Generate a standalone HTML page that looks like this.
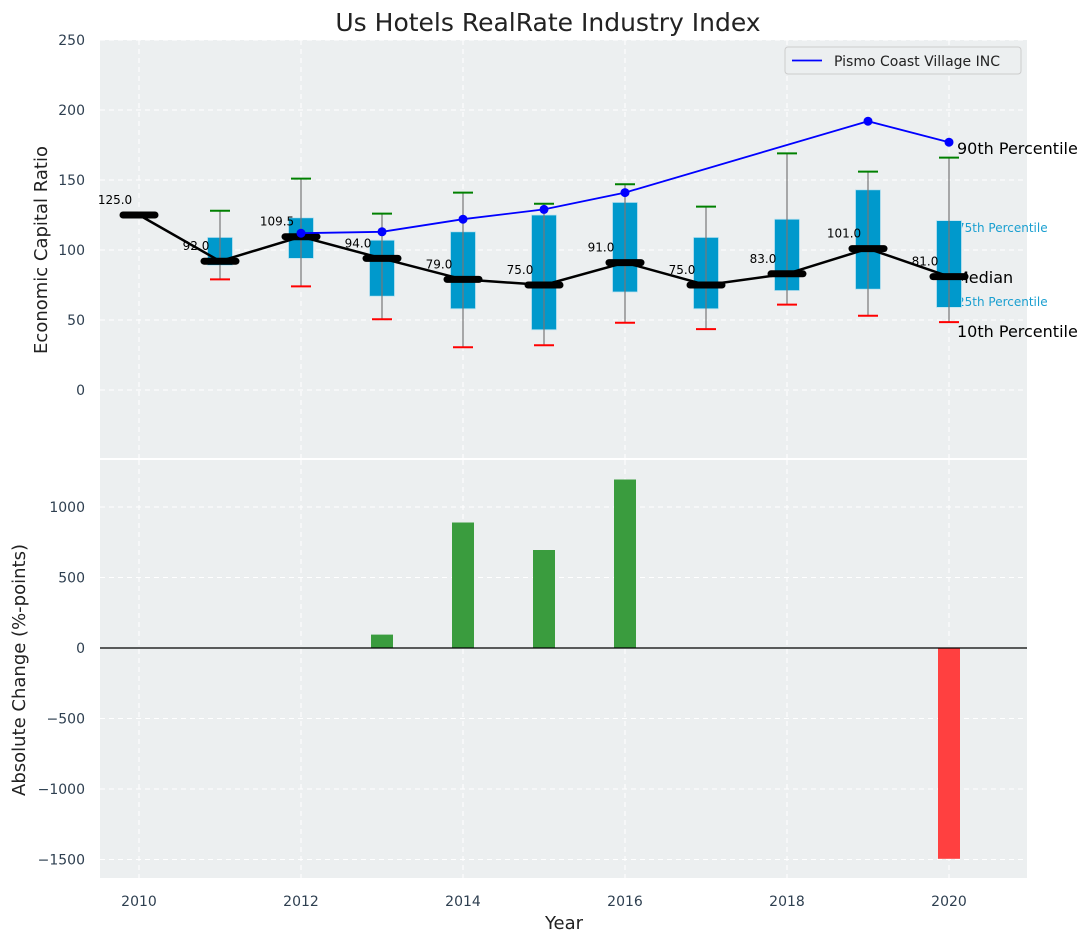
<!DOCTYPE html>
<html><head><meta charset="utf-8"><style>
body{margin:0;background:#fff;font-family:"Liberation Sans","DejaVu Sans",sans-serif;}
svg text{font-family:"DejaVu Sans","Liberation Sans",sans-serif;}
</style></head><body>
<svg id="c" width="1092" height="942" viewBox="0 0 1092 942" xmlns="http://www.w3.org/2000/svg"></svg>
<script>
const years=[2010,2011,2012,2013,2014,2015,2016,2017,2018,2019,2020];
const medians=[125,92,109.5,94,79,75,91,75,83,101,81];
const q25=[null,89,94,67,58,43,70,58,71,72,59];
const q75=[null,109,123,107,113,125,134,109,122,143,121];
const p10=[null,79,74,50.5,30.5,32,48,43.5,61,53,48.5];
const p90=[null,128,151,126,141,133,147,131,169,156,166];
const compYears=[2012,2013,2014,2015,2016,2019,2020];
const compVals=[112,113,122,129,141,192,177];
const barYears=[2013,2014,2015,2016,2020];
const barVals=[95,890,695,1195,-1495];
const topTicks=[0,50,100,150,200,250];
const botTicks=[-1500,-1000,-500,0,500,1000];
const xTicks=[2010,2012,2014,2016,2018,2020];

const NS="http://www.w3.org/2000/svg";
const svg=document.getElementById('c');
function el(t,a,txt){const e=document.createElementNS(NS,t);for(const k in a)e.setAttribute(k,a[k]);if(txt!==undefined)e.textContent=txt;svg.appendChild(e);return e;}
const X=y=>139+(y-2010)*81;
const YT=v=>390-v*1.4;
const YB=v=>648-v*0.141;
const L=100,R=1027;
const TT=40,TB=458,BT=460,BB=878;

let e;
e=el('rect',{x:L,y:TT,width:R-L,height:TB-TT,fill:'#eceff0'});

e=el('rect',{x:L,y:BT,width:R-L,height:BB-BT,fill:'#eceff0'});


xTicks.forEach(y=>{
 [[TT,TB],[BT,BB]].forEach(([a,b])=>{
  e=el('line',{x1:X(y),x2:X(y),y1:a,y2:b,stroke:'#fff','stroke-dasharray':'5,4','stroke-width':1});
  
 });
 e=el('text',{x:X(y),y:906,'text-anchor':'middle','font-size':14,fill:'#2e3f50'},String(y));
 
});
topTicks.forEach(v=>{
 e=el('line',{x1:L,x2:R,y1:YT(v),y2:YT(v),stroke:'#fff','stroke-dasharray':'5,4','stroke-width':1});
 
 e=el('text',{x:85,y:YT(v)+5,'text-anchor':'end','font-size':14,fill:'#2e3f50'},String(v));
 
});
botTicks.forEach(v=>{
 e=el('line',{x1:L,x2:R,y1:YB(v),y2:YB(v),stroke:'#fff','stroke-dasharray':'5,4','stroke-width':1});
 
 e=el('text',{x:85,y:YB(v)+5,'text-anchor':'end','font-size':14,fill:'#2e3f50'},String(v).replace('-','\u2212'));
 
});

e=el('text',{x:957,y:232,'font-size':12,fill:'#1a9fd0'},'75th Percentile');

e=el('text',{x:957,y:306,'font-size':12,fill:'#1a9fd0'},'25th Percentile');

e=el('text',{x:955,y:283,'font-size':16,fill:'#000'},'Median');


years.forEach((y,i)=>{
 if(q25[i]===null)return;
 const x=X(y);
 e=el('rect',{x:x-12.5,y:YT(q75[i]),width:25,height:YT(q25[i])-YT(q75[i]),fill:'#0099cc',stroke:'#bfe3f0','stroke-width':0.8});
 
 e=el('line',{x1:x,x2:x,y1:YT(p90[i]),y2:YT(p10[i]),stroke:'#777','stroke-width':1.2});
 
 e=el('line',{x1:x-10,x2:x+10,y1:YT(p90[i]),y2:YT(p90[i]),stroke:'green','stroke-width':2});
 
 e=el('line',{x1:x-10,x2:x+10,y1:YT(p10[i]),y2:YT(p10[i]),stroke:'red','stroke-width':2});
 
});
e=el('polyline',{points:years.map((y,i)=>X(y)+','+YT(medians[i])).join(' '),fill:'none',stroke:'#000','stroke-width':2.5});

years.forEach((y,i)=>{
 e=el('line',{x1:X(y)-16,x2:X(y)+16,y1:YT(medians[i]),y2:YT(medians[i]),stroke:'#000','stroke-width':7,'stroke-linecap':'round'});
 
 e=el('text',{x:X(y)-24,y:YT(medians[i])-11,'text-anchor':'middle','font-size':12,fill:'#000'},medians[i].toFixed(1));
 
});
e=el('polyline',{points:compYears.map((y,i)=>X(y)+','+YT(compVals[i])).join(' '),fill:'none',stroke:'#0000ff','stroke-width':1.8});

compYears.forEach((y,i)=>{
 e=el('circle',{cx:X(y),cy:YT(compVals[i]),r:4.5,fill:'#0000ff'});
 
});
e=el('text',{x:957,y:154,'font-size':16,fill:'#000'},'90th Percentile');

e=el('text',{x:957,y:337,'font-size':16,fill:'#000'},'10th Percentile');


e=el('rect',{x:785,y:47,width:236,height:27,rx:3,fill:'#eceff0',stroke:'#ccc','stroke-width':1});

e=el('line',{x1:792,x2:822,y1:60.5,y2:60.5,stroke:'#0000ff','stroke-width':1.8});

e=el('text',{x:834,y:66,'font-size':14,fill:'#222'},'Pismo Coast Village INC');


barYears.forEach((y,i)=>{
 const v=barVals[i];
 e=el('rect',{x:X(y)-11,y:Math.min(YB(v),YB(0)),width:22,height:Math.abs(YB(v)-YB(0)),fill:v>=0?'#3a9c3e':'#ff4040'});
 
});
e=el('line',{x1:L,x2:R,y1:YB(0),y2:YB(0),stroke:'#000','stroke-width':1.2});


e=el('text',{x:548,y:31,'text-anchor':'middle','font-size':25,fill:'#222'},'Us Hotels RealRate Industry Index');

e=el('text',{x:564,y:929,'text-anchor':'middle','font-size':18,fill:'#222'},'Year');

e=el('text',{x:47,y:250,'text-anchor':'middle','font-size':18,fill:'#222',transform:'rotate(-90 47 250)'},'Economic Capital Ratio');

e=el('text',{x:25,y:670,'text-anchor':'middle','font-size':18,fill:'#222',transform:'rotate(-90 25 670)'},'Absolute Change (%-points)');

</script>
</body></html>
